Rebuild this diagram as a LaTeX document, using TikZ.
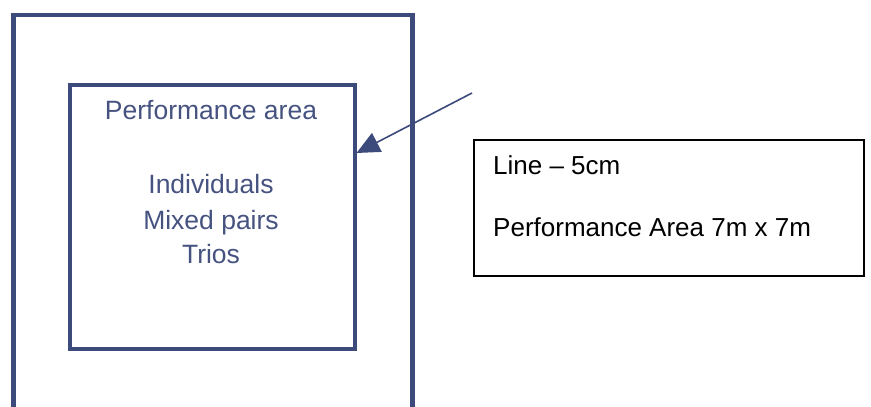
\documentclass[tikz,border=0pt]{standalone}
\usepackage{fontspec}
\setmainfont{Liberation Sans}
\usetikzlibrary{arrows.meta}
\definecolor{planblue}{HTML}{3D4A7C}
\definecolor{plantext}{HTML}{465280}
\tikzset{
  planline/.style={draw=planblue, line width=#1},
  plantxt/.style={text=plantext, font=\fontsize{26.5}{30}\selectfont, anchor=base, inner sep=0pt},
  notetxt/.style={text=black, font=\fontsize{26}{30}\selectfont, anchor=base west, inner sep=0pt},
  pointer/.style={draw=planblue, line width=1.6pt, -{Triangle[length=23pt,width=21pt]}}
}
\begin{document}
\begin{tikzpicture}[x=1pt,y=-1pt]
  \useasboundingbox (0,0) rectangle (871,407);
  \clip (0,0) rectangle (871,407);
  \fill[white] (0,0) rectangle (871,407);

  % outer boundary of the floor (runs off the bottom)
  \node[planline=4.5pt, minimum width=399pt, minimum height=420pt, anchor=north west, inner sep=0pt] (outer) at (11,12.5) {};
  % performance area
  \node[planline=3.5pt, minimum width=285pt, minimum height=264pt, anchor=north west, inner sep=0pt] (inner) at (68,83) {};

  \node[plantxt] (title) at (211,119) {Performance area};
  \node[plantxt] (ind) at (211,193) {Individuals};
  \node[plantxt] (mix) at (211,229) {Mixed pairs};
  \node[plantxt] (tri) at (211,263) {Trios};

  % note box
  \node[draw=black, line width=1.5pt, minimum width=390pt, minimum height=136pt, anchor=north west, inner sep=0pt] (note) at (473,139) {};
  \node[notetxt] (n1) at (493,174) {Line – 5cm};
  \node[notetxt] (n2) at (493,236) {Performance Area 7m x 7m};

  % pointer to the boundary line
  \coordinate (src) at (472,93);
  \coordinate (tip) at (inner.east |- 0,153);
  \draw[pointer] (src) -- (tip);
\end{tikzpicture}
\end{document}
